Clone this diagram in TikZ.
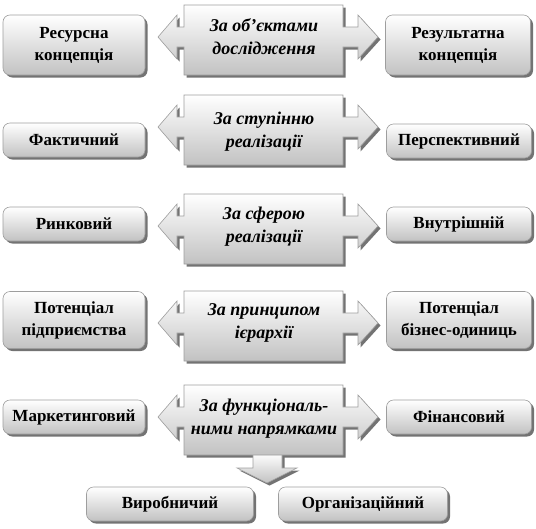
\documentclass[tikz,border=0pt]{standalone}
\usepackage{fontspec}
\setmainfont{Liberation Serif}
\usetikzlibrary{shadows}
\definecolor{edgegray}{gray}{0.62}
\definecolor{shadowgray}{gray}{0.45}
\definecolor{botgray}{gray}{0.76}
\tikzset{
  catbox/.style={rounded corners=7pt, draw=edgegray, line width=0.6pt,
    top color=white, bottom color=botgray, minimum height=#1,
    align=center, font=\fontsize{17}{22}\selectfont\bfseries,
    drop shadow={shadow xshift=2.5pt, shadow yshift=-2.5pt, fill=shadowgray, opacity=1}},
  catbox/.default=34pt,
  leftbox/.style={catbox=#1, minimum width=142pt},
  leftbox/.default=34pt,
  rightbox/.style={catbox=#1, minimum width=145pt},
  rightbox/.default=34pt,
  arrowshape/.style={draw=edgegray, line width=0.6pt, top color=white, bottom color=botgray},
  arrowshadow/.style={fill=shadowgray, draw=none},
  arrowtext/.style={align=center, font=\fontsize{18}{23}\selectfont\bfseries\itshape}
}
\newcommand{\dblarrow}[2]{%
  % #1 = centre y, #2 = style
  \path[#2] (184,#1-35) -- (343,#1-35) -- (343,#1-13) -- (358,#1-13) -- (358,#1-25)
    -- (378,#1-3) -- (358,#1+19) -- (358,#1+7) -- (343,#1+7) -- (343,#1+35)
    -- (184,#1+35) -- (184,#1+7) -- (177,#1+7) -- (177,#1+19) -- (158,#1-3)
    -- (177,#1-25) -- (177,#1-13) -- (184,#1-13) -- cycle;}
\begin{document}
\begin{tikzpicture}[x=1pt,y=-1pt]
\useasboundingbox (0,0) rectangle (536,528);

% shadows of centre arrows
\foreach \c in {40,130,229,326,420}{
  \begin{scope}[shift={(2.5,2.5)}]
    \dblarrow{\c}{arrowshadow}
  \end{scope}
}
\begin{scope}[shift={(2.5,2.5)}]
  \path[arrowshadow] (253,453) -- (282,453) -- (282,468) -- (297,468) -- (267,483) -- (237,468) -- (253,468) -- cycle;
\end{scope}
\path[arrowshape] (253,453) -- (282,453) -- (282,468) -- (297,468) -- (267,483) -- (237,468) -- (253,468) -- cycle;
\foreach \c in {40,130,229,326,420}{
  \dblarrow{\c}{arrowshape}
}

% centre texts
\node[arrowtext] (c1) at (264,37) {За об’єктами\\дослідження};
\node[arrowtext] (c2) at (264,132) {За ступінню\\реалізації};
\node[arrowtext] (c3) at (264,227) {За сферою\\реалізації};
\node[arrowtext] (c4) at (264,323) {За принципом\\ієрархії};
\node[arrowtext] (c5) at (264,419) {За функціональ-\\ними напрямками};

% left column
\node[leftbox=60pt] (l1) at (74,45) {Ресурсна\\концепція};
\node[leftbox] (l2) at (74,140) {Фактичний};
\node[leftbox] (l3) at (74,224) {Ринковий};
\node[leftbox=57pt] (l4) at (74,320) {Потенціал\\підприємства};
\node[leftbox] (l5) at (74,417) {Маркетинговий};

% right column
\node[rightbox=60pt] (r1) at (458,45) {Результатна\\концепція};
\node[rightbox] (r2) at (459,141) {Перспективний};
\node[rightbox] (r3) at (459,224) {Внутрішній};
\node[rightbox=57pt] (r4) at (459,320) {Потенціал\\бізнес-одиниць};
\node[rightbox] (r5) at (459,417) {Фінансовий};

% bottom
\node[catbox, minimum width=167pt] (b1) at (170,504) {Виробничий};
\node[catbox, minimum width=169pt] (b2) at (363,504) {Організаційний};
\end{tikzpicture}
\end{document}
